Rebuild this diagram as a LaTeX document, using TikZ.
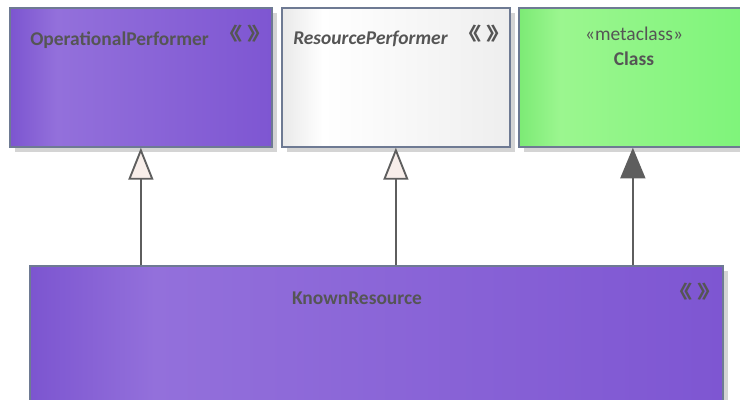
\documentclass[tikz,border=0pt]{standalone}
\usepackage{fontspec}
\usepackage{graphicx}
\setmainfont{Carlito}
\newfontfamily\cjk{Noto Sans CJK SC}
\usetikzlibrary{arrows.meta,shadows}
\definecolor{txt}{HTML}{555555}
\definecolor{bord}{HTML}{6E7A93}
\definecolor{shad}{HTML}{D4D4D4}
\definecolor{tipfill}{HTML}{F8EEEA}
\definecolor{linec}{HTML}{5E5E5E}
\definecolor{purple1}{HTML}{7C55D0}
\definecolor{purple2}{HTML}{9370DB}
\definecolor{purple3}{HTML}{7E56D2}
\definecolor{gray1}{HTML}{E9E9E9}
\definecolor{gray2}{HTML}{FFFFFF}
\definecolor{gray3}{HTML}{EEEEEE}
\definecolor{green1}{HTML}{7CEA75}
\definecolor{green2}{HTML}{9BF68F}
\definecolor{green3}{HTML}{7EF47A}
\pgfdeclarehorizontalshading{purp}{100bp}{color(0bp)=(purple1); color(25bp)=(purple1); color(34bp)=(purple2); color(75bp)=(purple3); color(100bp)=(purple3)}
\pgfdeclarehorizontalshading{grayg}{100bp}{color(0bp)=(gray1); color(25bp)=(gray1); color(34bp)=(gray2); color(75bp)=(gray3); color(100bp)=(gray3)}
\pgfdeclarehorizontalshading{greeng}{100bp}{color(0bp)=(green1); color(25bp)=(green1); color(34bp)=(green2); color(75bp)=(green3); color(100bp)=(green3)}
\newcommand{\stereoicon}{\scalebox{1.4}[1]{《\hspace{0.2em}》}}
\tikzset{
  box/.style={draw=bord, line width=1.3pt, anchor=north west, inner sep=0pt,
    general shadow={fill=shad, shadow xshift=3.75pt, shadow yshift=-3.75pt}},
  lbl/.style={text=txt, font=\fontsize{14.6pt}{16pt}\selectfont\bfseries, inner sep=0pt},
  guil/.style={text=txt, font=\cjk\fontsize{13.5pt}{14pt}\selectfont\bfseries, inner sep=0pt},
  gen/.style={draw=linec, line width=1.4pt, -{Triangle[length=24pt, width=18.75pt, fill=tipfill]}},
  ext/.style={draw=linec, line width=1.4pt, -{Triangle[length=23pt, width=18.75pt, fill=linec]}}
}
\begin{document}
\begin{tikzpicture}[x=0.75pt, y=-0.75pt]
\useasboundingbox (0,0) rectangle (740,400);
\node[box, shading=purp, minimum width=196.5pt, minimum height=104.25pt] (op) at (9,7) {};
\node[box, shading=grayg, minimum width=171pt, minimum height=104.25pt] (rp) at (281,7) {};
\node[box, shading=greeng, minimum width=171pt, minimum height=104.25pt] (cl) at (518,7) {};
\node[box, shading=purp, minimum width=519.75pt, minimum height=120pt] (kr) at (29,265) {};
\node[lbl, anchor=base west] (opt) at (30,45) {OperationalPerformer};
\node[guil] (opg) at (245,34) {\stereoicon};
\node[lbl, anchor=base west, font=\fontsize{14.6pt}{16pt}\selectfont\bfseries\itshape] (rpt) at (293,44) {ResourcePerformer};
\node[guil] (rpg) at (484,34) {\stereoicon};
\node[lbl, anchor=base, font=\fontsize{14.6pt}{16pt}\selectfont] (clm) at (634,40) {«metaclass»};
\node[lbl, anchor=base] (clt) at (634,65) {Class};
\node[lbl, anchor=base] (krt) at (357,304) {KnownResource};
\node[guil] (krg) at (695,292) {\stereoicon};
\draw[gen] (op.south |- kr.north) -- (op.south);
\draw[gen] (rp.south |- kr.north) -- (rp.south);
\draw[ext] (cl.south |- kr.north) -- (cl.south);
\end{tikzpicture}
\end{document}
